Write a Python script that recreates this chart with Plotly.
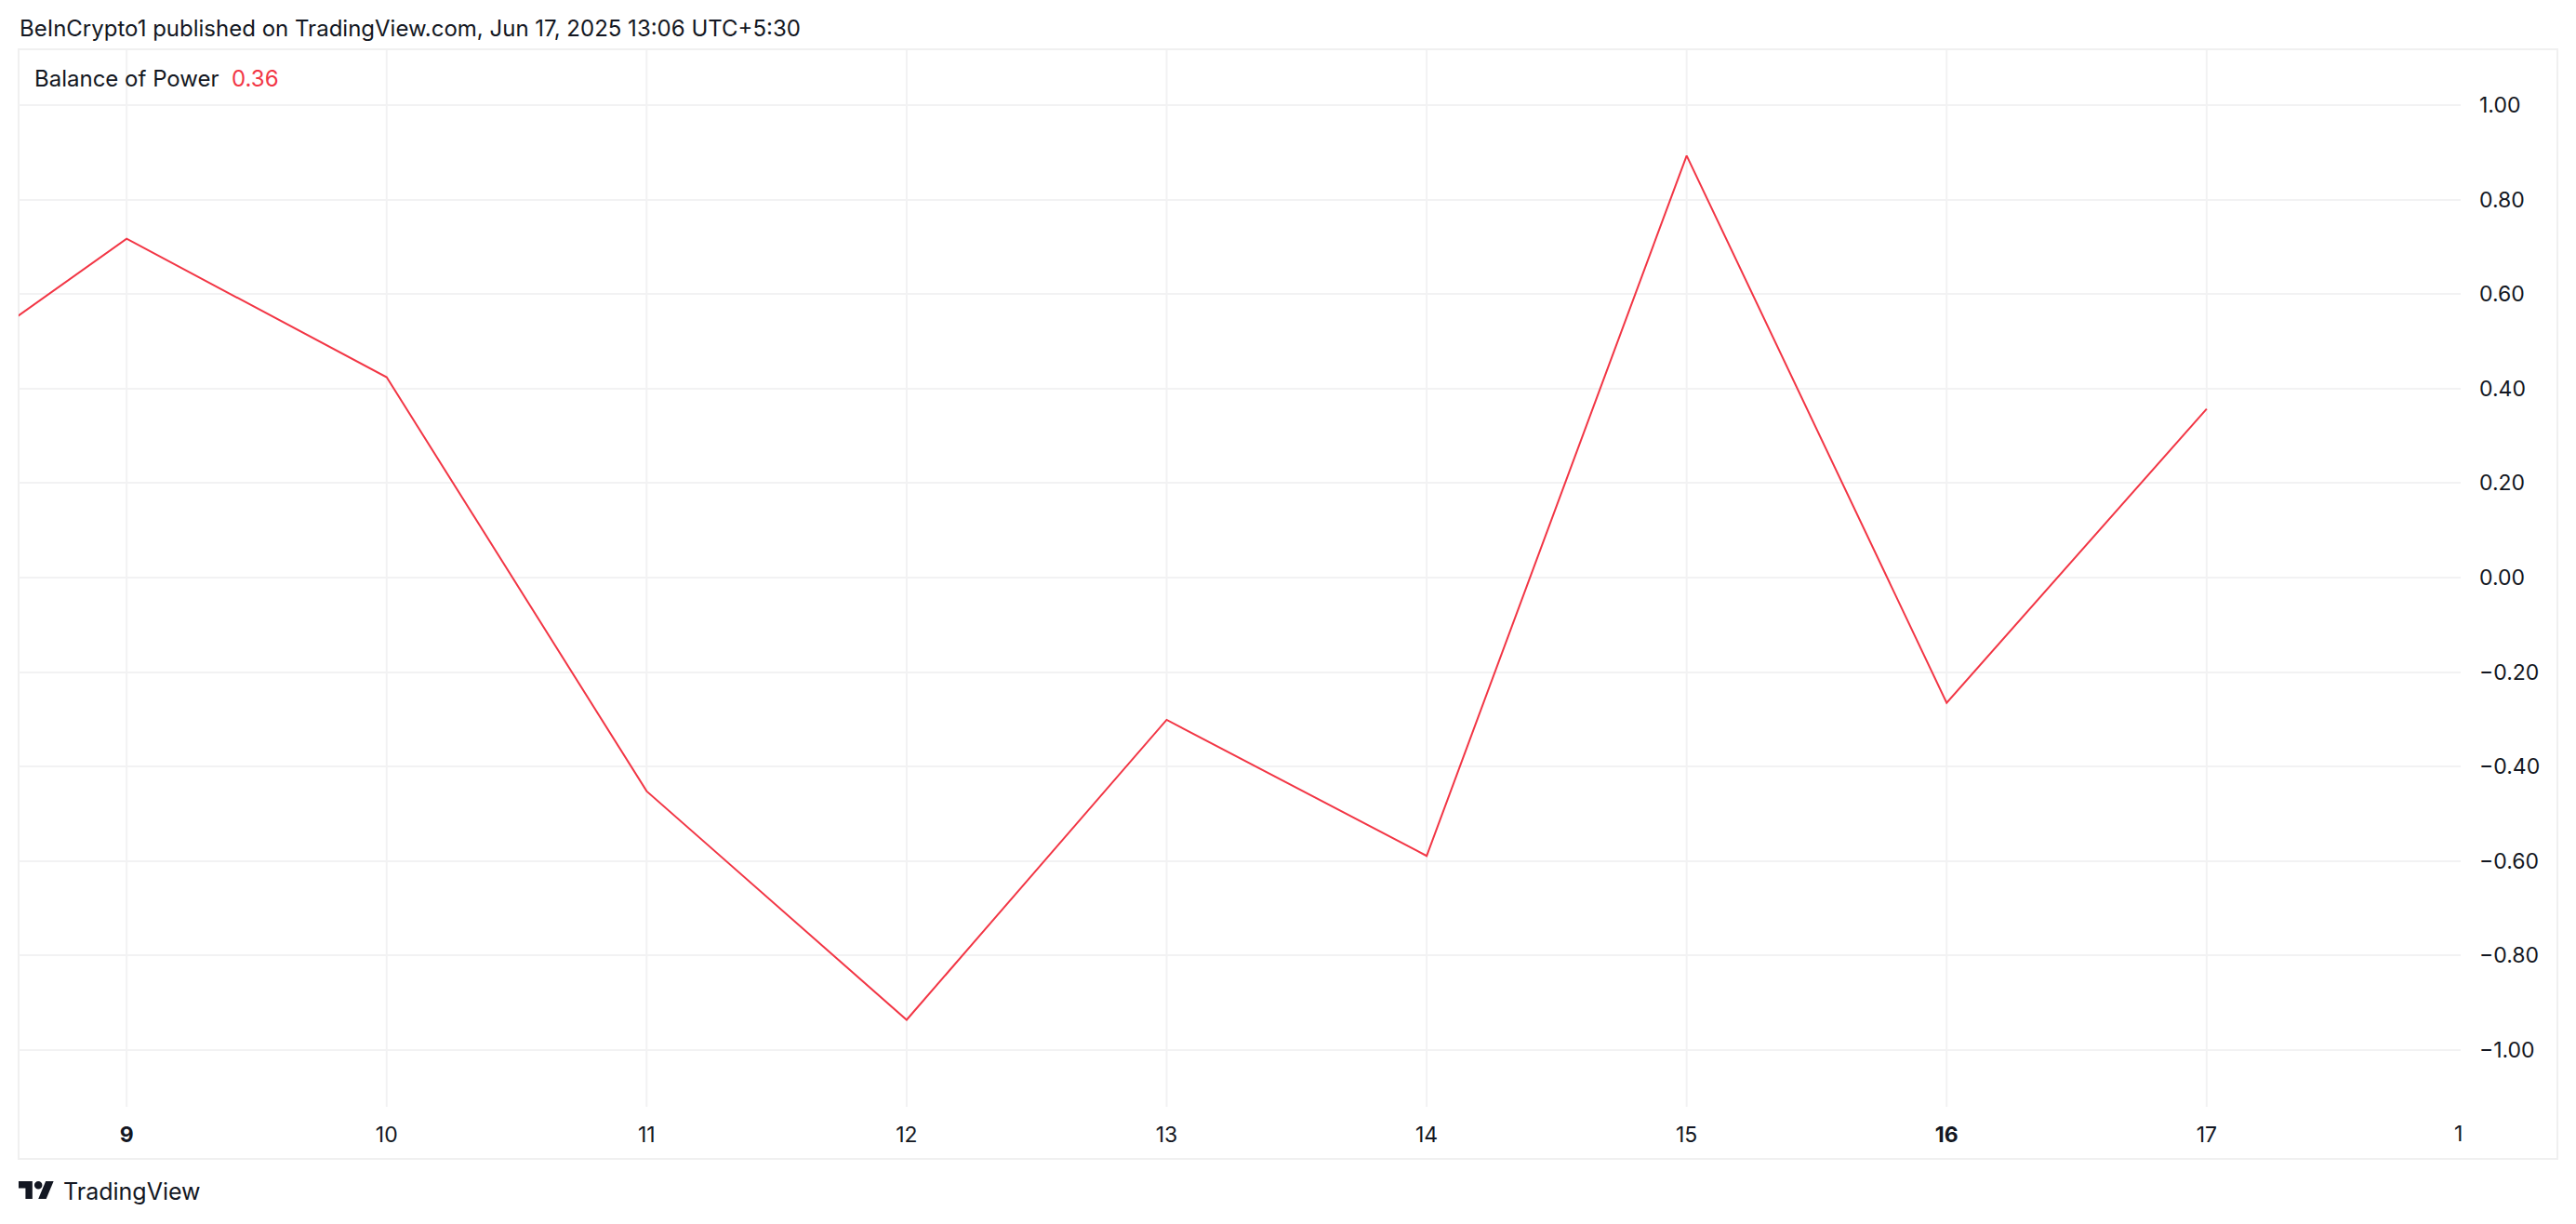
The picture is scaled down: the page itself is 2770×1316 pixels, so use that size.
import plotly.graph_objects as go

# ---- data ----
days = [8, 9, 10, 11, 12, 13, 14, 15, 16, 17]
bop = [0.326, 0.717, 0.424, -0.452, -0.936, -0.301, -0.589, 0.893, -0.265, 0.357]
x_tick_vals = [9, 10, 11, 12, 13, 14, 15, 16, 17]
x_tick_text = ["<b>9</b>", "10", "11", "12", "13", "14", "15", "<b>16</b>", "17"]
y_tick_vals = [1.0, 0.8, 0.6, 0.4, 0.2, 0.0, -0.2, -0.4, -0.6, -0.8, -1.0]
y_tick_text = [("\u2212" if v < 0 else "") + f"{abs(v):.2f}" for v in y_tick_vals]
header = "BeInCrypto1 published on TradingView.com, Jun 17, 2025 13:06 UTC+5:30"
indicator_name = "Balance of Power"

# ---- styling ----
OFF = 8                                        # page body margin
W, H = 2770 - OFF, 1316 - OFF
PL, PR, PT, PB = 20 - OFF, 2646 - OFF, 53 - OFF, 1190 - OFF   # pane in figure pixels
RED = "#F23645"
TXT = "#131722"
GRID = "#f2f2f3"
FONT = "Inter, Roboto, sans-serif"

def px_x(p):
    """reference-page pixel -> paper x"""
    return (p - OFF - PL) / (PR - PL)

def px_y(p):
    """reference-page pixel -> paper y"""
    return (PB - (p - OFF)) / (PB - PT)

fig = go.Figure()
fig.add_trace(go.Scatter(x=days, y=bop, mode="lines",
                         line=dict(color=RED, width=2), hoverinfo="skip",
                         showlegend=False))

fig.update_layout(
    width=W, height=H,
    margin=dict(l=PL, r=W - PR, t=PT, b=H - PB, pad=0),
    paper_bgcolor="white", plot_bgcolor="white",
    template="none",
    font=dict(family=FONT, color=TXT, size=23),
    xaxis=dict(range=[8.5845, 17.977], tickmode="array",
               tickvals=x_tick_vals, ticktext=x_tick_text,
               showgrid=False, zeroline=False, showline=False, ticks="",
               ticklabelstandoff=14, tickfont=dict(size=23, color=TXT)),
    yaxis=dict(range=[-1.12, 1.118], side="right", tickmode="array",
               tickvals=y_tick_vals, ticktext=y_tick_text,
               showgrid=True, gridcolor=GRID, gridwidth=2,
               zeroline=False, showline=False, ticks="",
               ticklabelstandoff=19, tickfont=dict(size=23, color=TXT)),
)

# vertical grid lines at each day (TradingView style)
for d in range(8, 19):
    fig.add_shape(type="line", xref="x", yref="paper", x0=d, x1=d, y0=0, y1=1,
                  line=dict(color=GRID, width=2), layer="below")

# outer frame
fig.add_shape(type="rect", xref="paper", yref="paper",
              x0=px_x(20), x1=px_x(2750), y0=px_y(1246), y1=px_y(53),
              line=dict(color="#f0f0f0", width=2), layer="below")

# header
fig.add_annotation(text=header, xref="paper", yref="paper",
                   x=px_x(19), y=px_y(30), xanchor="left", yanchor="middle",
                   showarrow=False, font=dict(size=24, color=TXT, family=FONT))

# legend
fig.add_annotation(text=f"{indicator_name}&nbsp;&nbsp;<span style='color:{RED}'>{bop[-1]:.2f}</span>",
                   xref="paper", yref="paper", x=px_x(35), y=px_y(85),
                   xanchor="left", yanchor="middle", showarrow=False,
                   font=dict(size=24, color=TXT, family=FONT))

# clipped "18" label at right edge of the time axis
fig.add_annotation(text="1", xref="paper", yref="paper", x=px_x(2650), y=px_y(1219),
                   xanchor="right", yanchor="middle", showarrow=False,
                   font=dict(size=23, color=TXT, family=FONT))

# TradingView logo (icon drawn as shapes + text)
s = 1.06
ox, oy = 20, 1270
def P(u, v):
    return px_x(ox + u * s), px_y(oy + (v - 4) * s)

def path(points):
    return "M " + " L ".join(f"{a:.6f},{b:.6f}" for a, b in (P(u, v) for u, v in points)) + " Z"

fig.add_shape(type="path", xref="paper", yref="paper",
              path=path([(0, 4), (14, 4), (14, 22), (7, 22), (7, 11), (0, 11)]),
              fillcolor=TXT, line=dict(width=0))
fig.add_shape(type="path", xref="paper", yref="paper",
              path=path([(20, 22), (27.5, 4), (35.5, 4), (28, 22)]),
              fillcolor=TXT, line=dict(width=0))
cx0, cy0 = P(16, 4)
cx1, cy1 = P(24, 12)
fig.add_shape(type="circle", xref="paper", yref="paper",
              x0=cx0, x1=cx1, y0=cy1, y1=cy0, fillcolor=TXT, line=dict(width=0))
fig.add_annotation(text="TradingView", xref="paper", yref="paper",
                   x=px_x(66), y=px_y(1281), xanchor="left", yanchor="middle",
                   showarrow=False, font=dict(size=25, color=TXT, family=FONT))

fig.write_html("out.html")
